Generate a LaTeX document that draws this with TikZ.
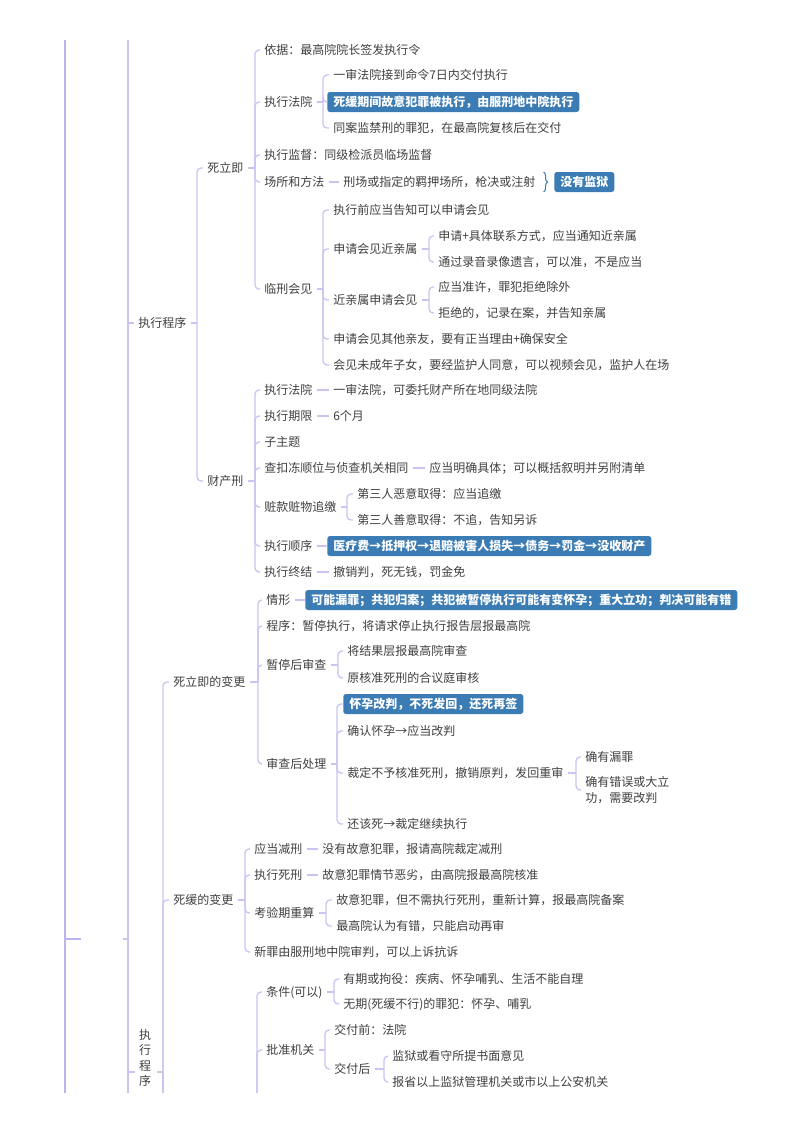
\documentclass[tikz,border=0pt]{standalone}
\usepackage{fontspec}
\setmainfont{Noto Sans CJK SC}
\usetikzlibrary{decorations.pathreplacing}
\definecolor{lineC}{HTML}{C9C4F2}
\definecolor{lineD}{HTML}{BCB4EE}
\definecolor{txtC}{HTML}{3F3F3F}
\definecolor{boxC}{HTML}{3B7CB4}
\newcommand\tfont{\fontsize{9pt}{11.5pt}\selectfont}
\tikzset{
  conn/.style={draw=lineC, line width=1pt, rounded corners=3pt},
  connroot/.style={draw=lineD, line width=1.8pt},
  txt/.style={anchor=west, xshift=-3pt, inner xsep=3pt, inner ysep=0pt, text=txtC, font=\tfont, text height=7.9pt, text depth=1.1pt},
  txttwo/.style={anchor=west, xshift=-3pt, inner xsep=3pt, inner ysep=0pt, text=txtC, align=left, font=\fontsize{9pt}{12pt}\selectfont},
  vtxt/.style={inner sep=0pt, text=txtC, align=center, font=\fontsize{9pt}{11.5pt}\selectfont},
  hl/.style={anchor=west, fill=boxC, text=white, font=\tfont\bfseries, rounded corners=2pt, inner xsep=4.5pt, inner ysep=3pt, text height=7.9pt, text depth=1.1pt},
  bracebar/.style={draw=boxC, line width=0.8pt, decorate, decoration={brace, amplitude=3pt}}
}
\newcommand\mmT[4]{\node[txt] (#1) at (#2,#3) {#4};}
\newcommand\mmB[4]{\node[hl] (#1) at (#2,#3) {#4};}
\newcommand\mmLnk[2]{\draw[conn] (#1.east) -- (#2.west);}
\newcommand\mmBrk[3]{%
  \coordinate (#1-bx) at (#2,0);
  \draw[conn] (#1.east) -- (#1.east -| #1-bx);
  \foreach \c in {#3} {\draw[conn] (#1.east -| #1-bx) |- (\c.west);}
}
\begin{document}
\begin{tikzpicture}[x=0.75pt,y=-0.75pt]
\useasboundingbox (0,0) rectangle (800,1132);
\begin{scope}
\clip (0,40) rectangle (800,1092);

% ---------- left spines ----------
\coordinate (r0t) at (65,30);
\coordinate (r0b) at (65,1150);
\coordinate (r0k) at (65,939);
\coordinate (r0e) at (81,939);
\coordinate (r1s) at (123,939);
\coordinate (r1k) at (128,939);
\coordinate (r1t) at (128,30);
\coordinate (r1b) at (128,1150);
\draw[connroot] (r0t) -- (r0b);
\draw[connroot] (r0k) -- (r0e);
\draw[conn] (r1s) -- (r1k);
\draw[conn] (r1t) -- (r1b);

% ---------- first 执行程序 ----------
\mmT{zxA}{138}{323}{执行程序}
\draw[conn] (zxA.west -| r1t) -- (zxA.west);
\mmT{sl}{207}{168}{死立即}
\mmT{ccx}{207}{481}{财产刑}
\mmBrk{zxA}{197}{sl,ccx}

% 死立即
\mmT{yj}{264}{50}{依据：最高院院长签发执行令}
\mmT{zxfy}{264}{102}{执行法院}
\mmT{zxjd}{264}{155}{执行监督：同级检派员临场监督}
\mmT{csff}{264}{182}{场所和方法}
\mmT{lxhj}{264}{289}{临刑会见}
\mmBrk{sl}{255}{yj,zxfy,zxjd,csff,lxhj}

\mmT{fa}{333}{75}{一审法院接到命令7日内交付执行}
\mmB{fb}{327}{102}{死缓期间故意犯罪被执行，由服刑地中院执行}
\mmT{fc}{333}{128}{同案监禁刑的罪犯，在最高院复核后在交付}
\mmBrk{zxfy}{323}{fa,fb,fc}

\mmT{cs}{343}{182}{刑场或指定的羁押场所，枪决或注射}
\mmLnk{csff}{cs}
\draw[bracebar] ([xshift=3pt,yshift=7.5pt]cs.east) -- ([xshift=3pt,yshift=-7.5pt]cs.east);
\mmB{mjy}{554}{182}{没有监狱}

\mmT{ha}{333}{210}{执行前应当告知可以申请会见}
\mmT{hb}{333}{249}{申请会见近亲属}
\mmT{hc}{333}{300}{近亲属申请会见}
\mmT{hd}{333}{339}{申请会见其他亲友，要有正当理由+确保安全}
\mmT{he}{333}{365}{会见未成年子女，要经监护人同意，可以视频会见，监护人在场}
\mmBrk{lxhj}{323}{ha,hb,hc,hd,he}

\mmT{hba}{438}{236}{申请+具体联系方式，应当通知近亲属}
\mmT{hbb}{438}{262}{通过录音录像遗言，可以准，不是应当}
\mmBrk{hb}{429}{hba,hbb}
\mmT{hca}{438}{287}{应当准许，罪犯拒绝除外}
\mmT{hcb}{438}{313}{拒绝的，记录在案，并告知亲属}
\mmBrk{hc}{429}{hca,hcb}

% 财产刑
\mmT{ca}{264}{390}{执行法院}
\mmT{caa}{333}{390}{一审法院，可委托财产所在地同级法院}
\mmLnk{ca}{caa}
\mmT{cb}{264}{416}{执行期限}
\mmT{cba}{333}{416}{6个月}
\mmLnk{cb}{cba}
\mmT{cc}{264}{442}{子主题}
\mmT{cd}{264}{468}{查扣冻顺位与侦查机关相同}
\mmT{cda}{429}{468}{应当明确具体；可以概括叙明并另附清单}
\mmLnk{cd}{cda}
\mmT{ce}{264}{507}{赃款赃物追缴}
\mmT{cea}{357}{494}{第三人恶意取得：应当追缴}
\mmT{ceb}{357}{520}{第三人善意取得：不追，告知另诉}
\mmBrk{ce}{347}{cea,ceb}
\mmT{cf}{264}{546}{执行顺序}
\mmB{cfa}{327}{546}{医疗费→抵押权→退赔被害人损失→债务→罚金→没收财产}
\mmLnk{cf}{cfa}
\mmT{cg}{264}{572}{执行终结}
\mmT{cga}{333}{572}{撤销判，死无钱，罚金免}
\mmLnk{cg}{cga}
\mmBrk{ccx}{255}{ca,cb,cc,cd,ce,cf,cg}

% ---------- second 执行程序 (vertical) ----------
\node[vtxt] (zxB) at (145,1058) {执\\行\\程\\序};
\coordinate (vbL) at (128,1072);
\coordinate (vbLe) at (135,1072);
\coordinate (vbR) at (157,1072);
\coordinate (vbk) at (163,1072);
\coordinate (vbe) at (163,1150);
\draw[conn] (vbL) -- (vbLe);
\draw[conn] (vbR) -- (vbk);
\mmT{sb}{173}{682}{死立即的变更}
\mmT{sh}{173}{900}{死缓的变更}
\draw[conn] (vbk) |- (sb.west);
\draw[conn] (vbk) |- (sh.west);
\draw[conn] (vbk) -- (vbe);

% 死立即的变更
\mmT{da}{266}{600}{情形}
\mmB{daa}{305}{600}{可能漏罪；共犯归案；共犯被暂停执行可能有变怀孕；重大立功；判决可能有错}
\mmLnk{da}{daa}
\mmT{db}{266}{626}{程序：暂停执行，将请求停止执行报告层报最高院}
\mmT{dc}{266}{665}{暂停后审查}
\mmT{dca}{347}{651}{将结果层报最高院审查}
\mmT{dcb}{347}{678}{原核准死刑的合议庭审核}
\mmBrk{dc}{338}{dca,dcb}
\mmT{dd}{266}{764}{审查后处理}
\mmB{dda}{343}{704}{怀孕改判，不死发回，还死再签}
\mmT{ddb}{347}{731}{确认怀孕→应当改判}
\mmT{ddc}{347}{773}{裁定不予核准死刑，撤销原判，发回重审}
\mmT{ddd}{347}{824}{还该死→裁定继续执行}
\mmBrk{dd}{337}{dda,ddb,ddc,ddd}
\mmT{ddca}{585}{757}{确有漏罪}
\node[txttwo] (ddcb) at (585,790) {确有错误或大立\\功，需要改判};
\mmBrk{ddc}{576}{ddca,ddcb}
\mmBrk{sb}{258}{da,db,dc,dd}

% 死缓的变更
\mmT{ea}{254}{849}{应当减刑}
\mmT{eaa}{322}{849}{没有故意犯罪，报请高院裁定减刑}
\mmLnk{ea}{eaa}
\mmT{eb}{254}{875}{执行死刑}
\mmT{eba}{322}{875}{故意犯罪情节恶劣，由高院报最高院核准}
\mmLnk{eb}{eba}
\mmT{ec}{254}{913}{考验期重算}
\mmT{eca}{336}{900}{故意犯罪，但不需执行死刑，重新计算，报最高院备案}
\mmT{ecb}{336}{926}{最高院认为有错，只能启动再审}
\mmBrk{ec}{326}{eca,ecb}
\mmT{ed}{254}{952}{新罪由服刑地中院审判，可以上诉抗诉}
\mmBrk{sh}{245}{ea,eb,ec,ed}

% lower branch (parent below the page edge)
\coordinate (hid) at (257,1150);
\mmT{ga}{266}{992}{条件(可以)}
\mmT{gaa}{343}{979}{有期或拘役：疾病、怀孕哺乳、生活不能自理}
\mmT{gab}{343}{1004}{无期(死缓不行)的罪犯：怀孕、哺乳}
\mmBrk{ga}{334}{gaa,gab}
\mmT{gb}{266}{1050}{批准机关}
\mmT{gba}{334}{1030}{交付前：法院}
\mmT{gbb}{334}{1069}{交付后}
\mmBrk{gb}{325}{gba,gbb}
\mmT{gbba}{392}{1056}{监狱或看守所提书面意见}
\mmT{gbbb}{392}{1082}{报省以上监狱管理机关或市以上公安机关}
\mmBrk{gbb}{384}{gbba,gbbb}
\draw[conn] (hid) |- (ga.west);
\draw[conn] (hid) |- (gb.west);
\end{scope}
\end{tikzpicture}
\end{document}
